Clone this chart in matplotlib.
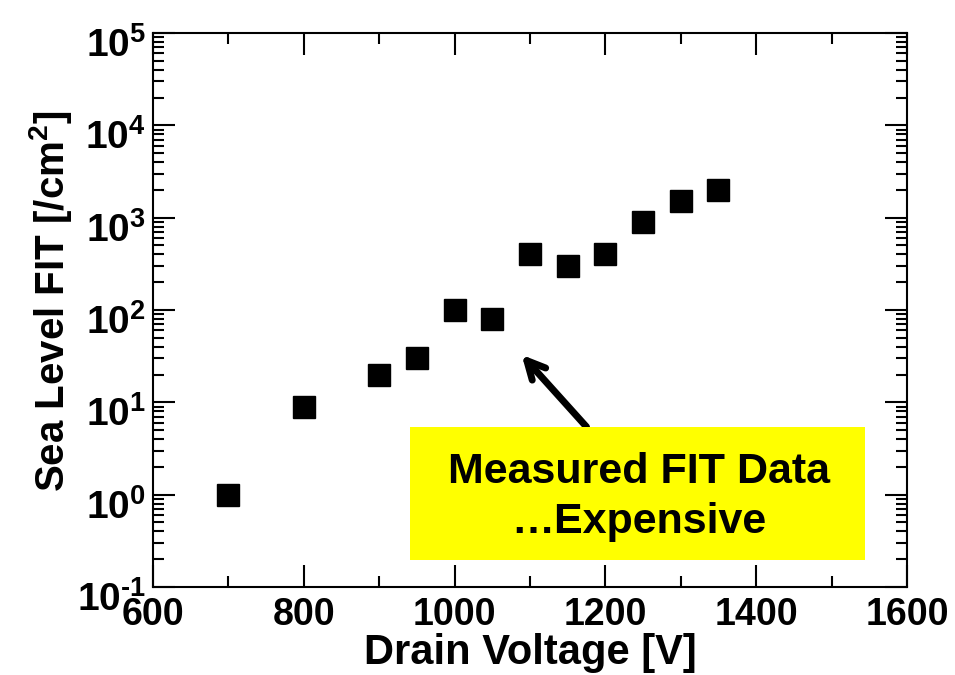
import math
import matplotlib
matplotlib.use("Agg")
import matplotlib.pyplot as plt
from matplotlib.ticker import LogLocator, FixedLocator, FuncFormatter, MultipleLocator
from matplotlib.transforms import ScaledTranslation

plt.rcParams['font.family'] = ['Liberation Sans', 'DejaVu Sans']
plt.rcParams['font.weight'] = 'bold'
plt.rcParams['mathtext.fontset'] = 'custom'
plt.rcParams['mathtext.rm'] = 'Liberation Sans:bold'
plt.rcParams['mathtext.bf'] = 'Liberation Sans:bold'
plt.rcParams['mathtext.it'] = 'Liberation Sans:bold'
plt.rcParams['mathtext.default'] = 'bf'

# Data
drain_voltage = [700, 800, 900, 950, 1000, 1050, 1100, 1150, 1200, 1250, 1300, 1350]
fit_values = [1, 9, 20, 30, 100, 80, 400, 300, 400, 900, 1500, 2000]
x_ticks = [600, 800, 1000, 1200, 1400, 1600]
y_exponents = [-1, 0, 1, 2, 3, 4, 5]
xlabel = "Drain Voltage [V]"
ylabel = r"Sea Level FIT [/cm$^{2}$]"
box_text = "Measured FIT Data\n\u2026Expensive"


def ylab(v, p):
    e = int(round(math.log10(v)))
    exp = r"\text{-}%d" % (-e) if e < 0 else "%d" % e
    return r"$\mathbf{10^{%s}}$" % exp


fig = plt.figure(figsize=(9.55, 6.75), dpi=100)
ax = fig.add_axes([0.1602, 0.1304, 0.7895, 0.8207])

ax.plot(drain_voltage, fit_values, linestyle='none', marker='s',
        markersize=16, color='black', markeredgecolor='black', zorder=3)

ax.set_yscale('log')
ax.set_xlim(600, 1600)
ax.set_ylim(10.0 ** y_exponents[0], 10.0 ** y_exponents[-1])

ax.xaxis.set_major_locator(FixedLocator(x_ticks))
ax.xaxis.set_minor_locator(MultipleLocator(100))
ax.yaxis.set_major_locator(FixedLocator([10.0 ** e for e in y_exponents]))
ax.yaxis.set_minor_locator(LogLocator(base=10, subs=range(2, 10), numticks=20))
ax.yaxis.set_major_formatter(FuncFormatter(ylab))
ax.xaxis.set_major_formatter(FuncFormatter(lambda v, p: "%d" % v))

ax.tick_params(which='both', direction='in', top=True, right=True, width=1.5)
ax.tick_params(which='major', length=16)
ax.tick_params(which='minor', length=8)
ax.tick_params(axis='x', labelsize=27, pad=7)
ax.tick_params(axis='y', labelsize=28, pad=5)
for s in ax.spines.values():
    s.set_linewidth(1.5)

for lab in ax.get_yticklabels():
    lab.set_transform(lab.get_transform() + ScaledTranslation(0, -0.09, fig.dpi_scale_trans))

ax.set_xlabel(xlabel, fontsize=30, fontweight='bold', labelpad=0)
ax.set_ylabel(ylabel, fontsize=29, fontweight='bold')
ax.yaxis.set_label_coords(-0.105, 0.515)

# arrow and yellow box
ax.annotate("", xy=(0.489, 0.419), xycoords='axes fraction',
            xytext=(0.575, 0.289), textcoords='axes fraction',
            arrowprops=dict(arrowstyle='->,head_length=1.3,head_width=0.65',
                            lw=5, color='black', shrinkA=0, shrinkB=0),
            zorder=4)
fig.patches.append(plt.Rectangle((410 / 955, 1 - 560 / 675), 455 / 955, 133 / 675,
                                 transform=fig.transFigure, facecolor='#ffff00',
                                 edgecolor='none', zorder=5))
fig.text(639 / 955, 1 - 497 / 675, box_text, ha='center', va='center',
         fontsize=31, fontweight='bold', linespacing=1.3, zorder=6)

fig.savefig("out.png", dpi=100)
